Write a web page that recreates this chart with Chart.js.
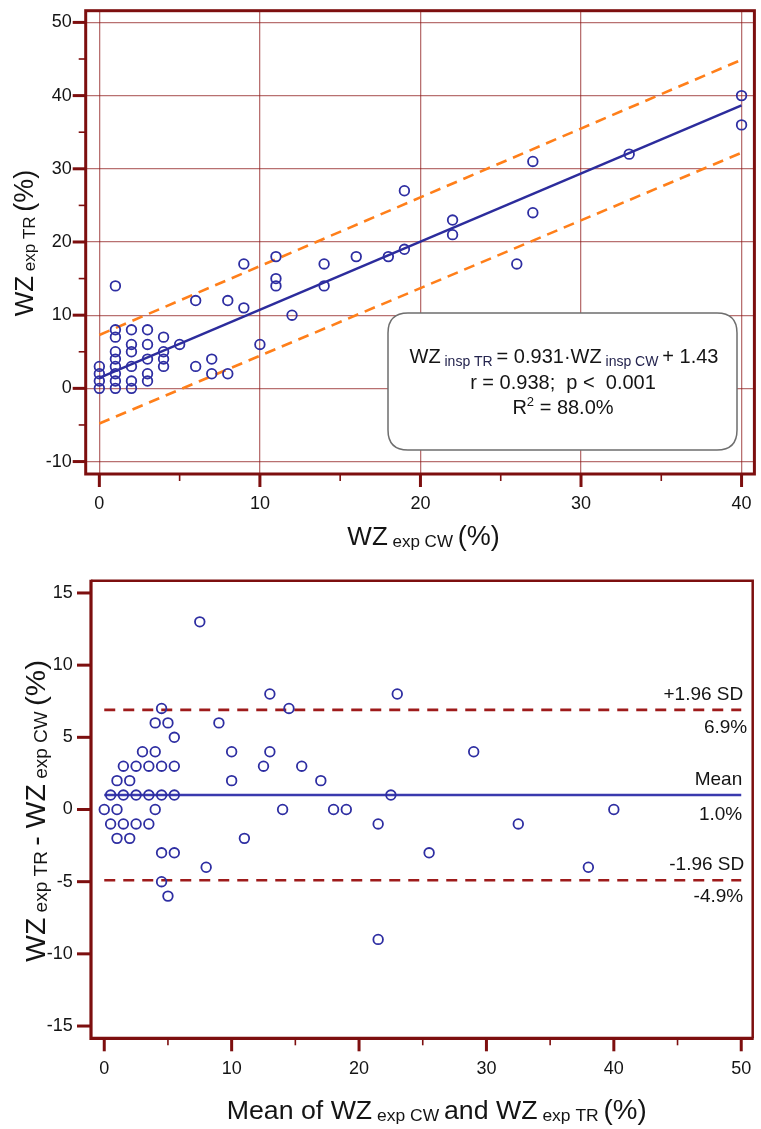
<!DOCTYPE html>
<html><head><meta charset="utf-8">
<script src="https://cdn.jsdelivr.net/npm/chart.js@4.4.1/dist/chart.umd.min.js"></script>
<style>
html,body{margin:0;padding:0;background:#fff;width:761px;height:1129px;overflow:hidden}
canvas{position:absolute;left:0}
#c1{top:0}
#c2{top:555px}
</style></head><body>
<canvas id="c1" width="761" height="555"></canvas>
<canvas id="c2" width="761" height="574"></canvas>
<script>
// ---------------- data ----------------
// Top: regression scatter, WZ exp CW (x) vs WZ exp TR (y)
const cwValues = [0,0,0,0, 1,1,1,1,1,1,1,1,1, 2,2,2,2,2,2, 3,3,3,3,3, 4,4,4,4, 5, 6,6, 7,7, 8,8, 9,9, 10, 11,11,11, 12, 14,14, 16, 18, 19,19, 22,22, 26, 27,27, 33, 40,40];
const trValues = [0,1,2,3, 0,1,2,3,4,5,7,8,14, 0,1,3,5,6,8, 1,2,4,6,8, 3,4,5,7, 6, 3,12, 2,4, 2,12, 11,17, 6, 14,15,18, 10, 14,17, 18, 18, 19,27, 21,23, 17, 24,31, 32, 36,40];
const regLineX = [0, 40];
const regLineY = [1.43, 38.67];
const bandX = [0, 40];
const upperBandY = [7.3, 44.9];
const lowerBandY = [-4.8, 32.2];
const topXTicks = [0, 10, 20, 30, 40];
const topYTicks = [-10, 0, 10, 20, 30, 40, 50];
const regText = ['= 0.931·WZ', '+ 1.43', 'r = 0.938;  p <  0.001', '= 88.0%'];

// Bottom: Bland-Altman, mean (x) vs difference (y)
const meanValues = [0,0.5,1,1.5, 0.5,1,1.5,2,2.5,3,4,4.5,7.5, 1,1.5,2.5,3.5,4,5, 2,2.5,3.5,4.5,5.5, 3.5,4,4.5,5.5, 5.5, 4.5,9, 4.5,5.5, 5,10, 10,13, 8, 12.5,13,14.5, 11, 14,15.5, 17, 18, 19,23, 21.5,22.5, 21.5, 25.5,29, 32.5, 38,40];
const diffValues = [0,1,2,3, -1,0,1,2,3,4,6,7,13, -2,-1,1,3,4,6, -2,-1,1,3,5, -1,0,1,3, 1, -3,6, -5,-3, -6,4, 2,8, -4, 3,4,7, -2, 0,3, 2, 0, 0,8, -1,1, -9, -3,4, -1, -4,0];
const limitX = [0, 50];
const upperLimit = 6.9;
const meanDiff = 1.0;
const lowerLimit = -4.9;
const limitLabels = {upper: ['+1.96 SD', '6.9%'], mean: ['Mean', '1.0%'], lower: ['-1.96 SD', '-4.9%']};
const botXTicks = [0, 10, 20, 30, 40, 50];
const botYTicks = [-15, -10, -5, 0, 5, 10, 15];

// ---------------- helpers ----------------
const FAM = '"Liberation Sans", Arial, Helvetica, sans-serif';
const DARKRED = '#7d0f0f';
const NAVY = '#2e2ea2';
const TXT = '#141414';

function pts(xs, ys) { return xs.map((x, i) => ({x: x, y: ys[i]})); }
function constLine(xs, v) { return xs.map(x => ({x: x, y: v})); }
function noPad(s) { s.paddingTop = 0; s.paddingBottom = 0; s.paddingLeft = 0; s.paddingRight = 0; }

function richWidth(ctx, runs) {
  let w = 0;
  for (const r of runs) { ctx.font = r.size + 'px ' + FAM; w += ctx.measureText(r.t).width; }
  return w;
}
function drawRich(ctx, runs, cx, cy, rotate, targetW) {
  ctx.save();
  ctx.translate(cx, cy);
  if (rotate) ctx.rotate(rotate);
  const w = richWidth(ctx, runs);
  if (targetW) ctx.scale(targetW / w, 1);
  let x = -w / 2;
  ctx.textAlign = 'left';
  ctx.textBaseline = 'alphabetic';
  for (const r of runs) {
    ctx.font = r.size + 'px ' + FAM;
    ctx.fillStyle = r.color || TXT;
    ctx.fillText(r.t, x, r.dy || 0);
    x += ctx.measureText(r.t).width;
  }
  ctx.restore();
}
function tickMarks(ctx, scale, from, to, step, isX, edge, majorEvery, majLen, minLen, majW, minW) {
  ctx.save();
  ctx.strokeStyle = DARKRED;
  for (let v = from; v <= to + 1e-9; v += step) {
    const major = Math.abs(v / majorEvery - Math.round(v / majorEvery)) < 1e-9;
    const len = major ? majLen : minLen;
    ctx.lineWidth = major ? majW : minW;
    const p = scale.getPixelForValue(v);
    ctx.beginPath();
    if (isX) { ctx.moveTo(p, edge); ctx.lineTo(p, edge + len); }
    else { ctx.moveTo(edge, p); ctx.lineTo(edge - len, p); }
    ctx.stroke();
  }
  ctx.restore();
}
function roundRect(ctx, x, y, w, h, r) {
  ctx.beginPath();
  ctx.moveTo(x + r, y);
  ctx.lineTo(x + w - r, y); ctx.quadraticCurveTo(x + w, y, x + w, y + r);
  ctx.lineTo(x + w, y + h - r); ctx.quadraticCurveTo(x + w, y + h, x + w - r, y + h);
  ctx.lineTo(x + r, y + h); ctx.quadraticCurveTo(x, y + h, x, y + h - r);
  ctx.lineTo(x, y + r); ctx.quadraticCurveTo(x, y, x + r, y);
  ctx.closePath();
}

const tickFont = {family: FAM, size: 18};

// ---------------- top chart ----------------
const topDeco = {
  id: 'topDeco',
  afterDatasetsDraw(chart) {
    const ctx = chart.ctx;
    ctx.save();
    roundRect(ctx, 388, 313, 349, 137, 20);
    ctx.fillStyle = '#fff'; ctx.fill();
    ctx.lineWidth = 1.5; ctx.strokeStyle = '#6e6e6e'; ctx.stroke();
    ctx.restore();
    drawRich(ctx, [
      {t: 'WZ', size: 20}, {t: ' insp TR ', size: 14, dy: 3, color: '#24244e'},
      {t: regText[0], size: 20}, {t: ' insp CW ', size: 14, dy: 3, color: '#24244e'},
      {t: regText[1], size: 20}], 564, 363);
    drawRich(ctx, [{t: regText[2], size: 20}], 563, 389);
    drawRich(ctx, [{t: 'R', size: 20}, {t: '2', size: 13, dy: -8}, {t: ' ' + regText[3], size: 20}], 563, 414);
  },
  afterDraw(chart) {
    const ctx = chart.ctx;
    const a = chart.chartArea;
    const sx = chart.scales.x, sy = chart.scales.y;
    ctx.save();
    ctx.strokeStyle = DARKRED; ctx.lineWidth = 3;
    ctx.strokeRect(a.left, a.top, a.right - a.left, a.bottom - a.top);
    ctx.restore();
    tickMarks(ctx, sx, 0, 40, 5, true, a.bottom, 10, 13, 7, 3, 1.6);
    tickMarks(ctx, sy, -10, 50, 5, false, a.left, 10, 13, 7, 3, 1.6);
    drawRich(ctx, [{t: 'WZ', size: 26}, {t: ' exp CW ', size: 17, dy: 2}, {t: '(%)', size: 27}], 423.5, 545);
    drawRich(ctx, [{t: 'WZ', size: 26}, {t: ' exp TR ', size: 17, dy: 2}, {t: '(%)', size: 27}], 33, 243, -Math.PI / 2);
  }
};

new Chart(document.getElementById('c1'), {
  type: 'scatter',
  data: {
    datasets: [
      {data: pts(cwValues, trValues), showLine: false, pointStyle: 'circle', pointRadius: 4.8, pointBorderWidth: 1.8,
       borderColor: NAVY, backgroundColor: 'rgba(0,0,0,0)', pointBackgroundColor: 'rgba(0,0,0,0)', pointBorderColor: NAVY},
      {data: pts(regLineX, regLineY), showLine: true, pointRadius: 0, borderColor: '#2c2c9c', borderWidth: 2.5},
      {data: pts(bandX, upperBandY), showLine: true, pointRadius: 0, borderColor: '#ff7f1a', borderWidth: 2.6, borderDash: [11, 7]},
      {data: pts(bandX, lowerBandY), showLine: true, pointRadius: 0, borderColor: '#ff7f1a', borderWidth: 2.6, borderDash: [11, 7]}
    ]
  },
  options: {
    responsive: false, animation: false, devicePixelRatio: 1,
    layout: {padding: {top: 10.7, right: 6, bottom: 0, left: 0}},
    plugins: {legend: {display: false}, tooltip: {enabled: false}},
    scales: {
      x: {type: 'linear', min: -0.85, max: 40.8,
          afterBuildTicks: s => { s.ticks = topXTicks.map(v => ({value: v})); },
          afterFit: s => { s.height = 555 - 474; noPad(s); },
          grid: {color: 'rgba(140,25,25,0.62)', lineWidth: 1.3, drawTicks: false},
          border: {display: false},
          ticks: {font: tickFont, color: TXT, padding: 19, autoSkip: false, maxRotation: 0}},
      y: {type: 'linear', min: -11.7, max: 51.6,
          afterBuildTicks: s => { s.ticks = topYTicks.map(v => ({value: v})); },
          afterFit: s => { s.width = 85.7; noPad(s); },
          grid: {color: 'rgba(140,25,25,0.62)', lineWidth: 1.3, drawTicks: false},
          border: {display: false},
          ticks: {font: tickFont, color: TXT, padding: 14, autoSkip: false}}
    }
  },
  plugins: [topDeco]
});

// ---------------- bottom chart ----------------
const botDeco = {
  id: 'botDeco',
  afterDraw(chart) {
    const ctx = chart.ctx;
    const a = chart.chartArea;
    const sx = chart.scales.x, sy = chart.scales.y;
    ctx.save();
    ctx.strokeStyle = DARKRED;
    ctx.lineWidth = 2.5;
    ctx.beginPath(); ctx.moveTo(a.left, a.top); ctx.lineTo(a.right, a.top); ctx.lineTo(a.right, a.bottom); ctx.stroke();
    ctx.lineWidth = 3.2;
    ctx.beginPath(); ctx.moveTo(a.left, a.top - 1); ctx.lineTo(a.left, a.bottom); ctx.lineTo(a.right + 1, a.bottom); ctx.stroke();
    ctx.restore();
    tickMarks(ctx, sx, 0, 50, 5, true, a.bottom, 10, 13, 7, 3, 1.6);
    tickMarks(ctx, sy, -15, 15, 5, false, a.left, 5, 14, 14, 3, 3);
    ctx.save();
    ctx.font = '19px ' + FAM; ctx.fillStyle = TXT; ctx.textAlign = 'right'; ctx.textBaseline = 'alphabetic';
    const xr = sx.getPixelForValue(50) + 2;
    const yu = sy.getPixelForValue(upperLimit), ym = sy.getPixelForValue(meanDiff), yl = sy.getPixelForValue(lowerLimit);
    ctx.fillText(limitLabels.upper[0], xr, yu - 10);
    ctx.fillText(limitLabels.upper[1], xr + 4, yu + 23);
    ctx.fillText(limitLabels.mean[0], xr - 1, ym - 10);
    ctx.fillText(limitLabels.mean[1], xr - 1, ym + 25);
    ctx.fillText(limitLabels.lower[0], xr + 1, yl - 10);
    ctx.fillText(limitLabels.lower[1], xr, yl + 22);
    ctx.restore();
    drawRich(ctx, [{t: 'Mean of ', size: 26}, {t: 'WZ', size: 26}, {t: ' exp CW ', size: 17, dy: 2},
                   {t: 'and ', size: 26}, {t: 'WZ', size: 26}, {t: ' exp TR ', size: 17, dy: 2}, {t: '(%)', size: 27}],
             436.7, 1119.3 - 555, 0, 420);
    drawRich(ctx, [{t: 'WZ', size: 27}, {t: ' exp TR ', size: 18, dy: 2}, {t: '- ', size: 27},
                   {t: 'WZ', size: 27}, {t: ' exp CW ', size: 18, dy: 2}, {t: '(%)', size: 28}],
             45, 811 - 555, -Math.PI / 2, 302);
  }
};

new Chart(document.getElementById('c2'), {
  type: 'scatter',
  data: {
    datasets: [
      {data: pts(meanValues, diffValues), showLine: false, pointStyle: 'circle', pointRadius: 4.8, pointBorderWidth: 1.8,
       borderColor: NAVY, backgroundColor: 'rgba(0,0,0,0)', pointBackgroundColor: 'rgba(0,0,0,0)', pointBorderColor: NAVY},
      {data: constLine(limitX, meanDiff), showLine: true, pointRadius: 0, borderColor: '#3a3aae', borderWidth: 2.5},
      {data: constLine(limitX, upperLimit), showLine: true, pointRadius: 0, borderColor: '#9e1b1b', borderWidth: 2.6, borderDash: [11, 8]},
      {data: constLine(limitX, lowerLimit), showLine: true, pointRadius: 0, borderColor: '#9e1b1b', borderWidth: 2.6, borderDash: [11, 8]}
    ]
  },
  options: {
    responsive: false, animation: false, devicePixelRatio: 1,
    layout: {padding: {top: 25.7, right: 8.3, bottom: 0, left: 0}},
    plugins: {legend: {display: false}, tooltip: {enabled: false}},
    scales: {
      x: {type: 'linear', min: -1.04, max: 50.9,
          afterBuildTicks: s => { s.ticks = botXTicks.map(v => ({value: v})); },
          afterFit: s => { s.height = 574 - 483.3; noPad(s); },
          grid: {display: false, drawTicks: false},
          border: {display: false},
          ticks: {font: tickFont, color: TXT, padding: 19.7, autoSkip: false, maxRotation: 0}},
      y: {type: 'linear', min: -15.85, max: 15.85,
          afterBuildTicks: s => { s.ticks = botYTicks.map(v => ({value: v})); },
          afterFit: s => { s.width = 91; noPad(s); },
          grid: {display: false, drawTicks: false},
          border: {display: false},
          ticks: {font: tickFont, color: TXT, padding: 18.3, autoSkip: false}}
    }
  },
  plugins: [botDeco]
});
</script>
</body></html>
